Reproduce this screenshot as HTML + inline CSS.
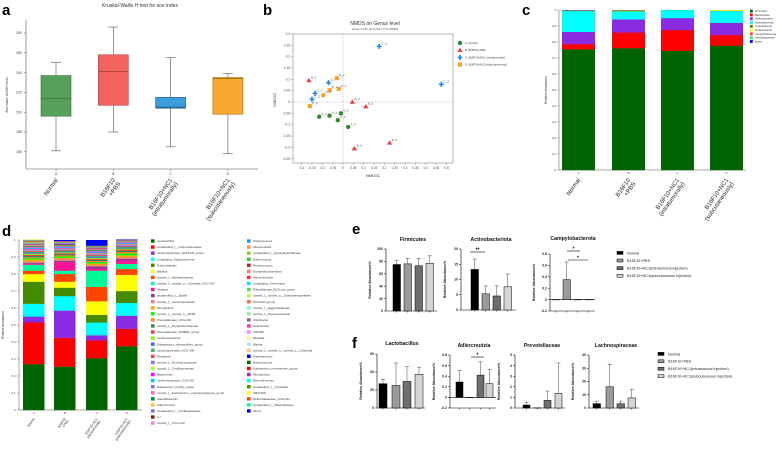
<!DOCTYPE html>
<html><head><meta charset="utf-8"><style>
html,body{margin:0;padding:0;background:#fff;}
svg{display:block;font-family:"Liberation Sans",Arial,sans-serif;}
</style></head><body>
<svg id="fig" width="782" height="450" viewBox="0 0 782 450" xmlns="http://www.w3.org/2000/svg"></svg>
<script>
// ---------- Panel a data ----------
const aGroups = ["A","B","C","D"];
const aLabels = [["Normal"],["B16F10","+PBS"],["B16F10+NC1","(intratumorally)"],["B16F10+NC1","(subcutaneously)"]];
const aMin = [161,180,165,158];
const aQ1 = [196,207,204,198];
const aMed = [214,241,205,234];
const aQ3 = [237,258,215,235];
const aMax = [250,286,255,239];
const aTicks = [160,180,200,220,240,260,280];
// ---------- Panel b data ----------
const bGroups = ["A","B","C","D"];
const bLegend = ["A: Normal","B: B16F10+PBS","C: B16F10+NC1 (intratumorally)","D: B16F10+NC1(subcutaneously)"];
const bNames = ["A_1","A_2","A_3","A_4","A_5","B_1","B_2","B_3","B_4","B_5","C_1","C_2","C_3","C_4","C_5","D_1","D_2","D_3","D_4","D_5"];
const bX = [-0.065,-0.115,-0.01,0.025,-0.025,-0.165,0.045,0.225,0.055,0.11,0.175,-0.135,0.475,-0.07,-0.15,-0.02,-0.03,-0.16,-0.065,-0.095];
const bY = [-0.06,-0.065,-0.05,-0.11,-0.08,0.095,0.0,-0.18,-0.205,-0.02,0.245,0.038,0.078,0.085,0.012,0.058,0.105,-0.018,0.052,0.03];
const bXTicks = [-0.2,-0.15,-0.1,-0.05,0,0.05,0.1,0.15,0.2,0.25,0.3,0.35,0.4,0.45,0.5];
const bYTicks = [-0.25,-0.2,-0.15,-0.1,-0.05,0,0.05,0.1,0.15,0.2,0.25,0.3];
// ---------- Panel c data ----------
const cPhyla = ["Firmicutes","Bacteroidota","Patescibacteria","Actinobacteriota","Cyanobacteria","Proteobacteria","Campylobacterota","Desulfobacterota","others"];
const cA = [0.755,0.032,0.077,0.13,0.002,0.001,0.001,0.001,0.001];
const cB = [0.762,0.098,0.082,0.05,0.002,0.001,0.004,0.001,0.0];
const cC = [0.745,0.13,0.075,0.048,0.001,0.0,0.0,0.001,0.0];
const cD = [0.778,0.066,0.076,0.074,0.002,0.004,0.0,0.0,0.0];
const cTicks = [0,0.1,0.2,0.3,0.4,0.5,0.6,0.7,0.8,0.9,1];
// ---------- Panel d data ----------
const dGenera = ["Lactobacillus","unclassified_f__Lachnospiraceae","Lachnospiraceae_NK4A136_group","Candidatus_Saccharimonas","Enterorhabdus","Bacillus","norank_f__Muribaculaceae","norank_f__norank_o__Clostridia_UCG-014","Alistipes","unclassified_c__Bacilli","norank_f__Lachnospiraceae","Monoglobus","norank_f__norank_o__RF39","Prevotellaceae_UCG-001","norank_f__Erysipelotrichaceae","Prevotellaceae_NK3B31_group","Lachnoclostridium","Eubacterium_xylanophilum_group","Lachnospiraceae_UCG-006","Roseburia","norank_f__Ruminococcaceae","norank_f__Oscillospiraceae","Bacteroides","Lachnospiraceae_UCG-001","Eubacterium_brachy_group","norank_f__Eubacterium_coprostanoligenes_group","Faecalibaculum","Adlercreutzia","unclassified_f__Oscillospiraceae","AJ","norank_f__UCG-010",
"Streptococcus","Alloprevotella","unclassified_f__Erysipelotrichaceae","Enterococcus","Ruminococcus","Erysipelatoclostridium","Marvinbryantia","Candidatus_Arthromitus","Rikenellaceae_RC9_gut_group","norank_f__norank_o__Gastranaerophilales","NK4A214_group","norank_f__Eggerthellaceae","norank_f__Peptococcaceae","Odoribacter","Helicobacter","ASF356","Bilophila","Blautia","norank_f__norank_o__norank_c__Clostridia","Anaerotruncus","Butyricicoccus","Eubacterium_ruminantium_group","Muribaculum","Brevundimonas","unclassified_c__Clostridia","UBA1819","Defluviitaleaceae_UCG-011","unclassified_f__Rikenellaceae","others"];
const dColors = ["#006400","#ff0000","#8a2be2","#00ffff","#458b00","#ffff00","#ff4500","#00fa9a","#ff1493","#8b3a8b","#f08080","#ffa500","#00ff00","#ff7f24","#2e8b57","#ee3b3b","#7cfc00","#4169e1","#3cb371","#f04040","#8470ff","#adff2f","#ff00ff","#00bfff","#9370db","#ff69b4","#008b45","#ffc125","#7b68ee","#8b1a1a","#ee82ee",
"#1e90ff","#ff8c42","#9acd32","#32cd32","#b22222","#fa8072","#ff3030","#00e5ee","#66cd66","#c0ff3e","#ff6347","#7fffd4","#90ee90","#8b668b","#ff3399","#ff83fa","#fff68f","#b0e2ff","#ffc58f","#0000ff","#006400","#ff0000","#9932cc","#00ffff","#458b00","#ffff00","#ff4500","#00fa9a","#0000ff"];
const dA = [0.27,0.245,0.035,0.075,0.13,0.045,0.02,0.035,0.005,0.005,0.01,0.01,0.008,0.006,0.008,0.006,0.007,0.006,0.005,0.005,0.004,0.004,0.005,0.004,0.004,0.004,0.004,0.004,0.003,0.003,0.003,0.003,0.003,0.003,0.003,0.003,0.002,0.002,0.002,0.002,0.002];
const dB = [0.255,0.17,0.16,0.085,0.05,0.035,0.045,0.02,0.05,0.008,0.012,0.006,0.008,0.006,0.007,0.006,0.005,0.005,0.005,0.004,0.004,0.004,0.004,0.004,0.004,0.003,0.003,0.003,0.003,0.003,0.003,0.003,0.002,0.002,0.002,0.002,0.002];
const dC = [0.305,0.105,0.03,0.075,0.045,0.08,0.085,0.095,0.012,0.012,0.01,0.008,0.008,0.007,0.007,0.006,0.006,0.006,0.005,0.005,0.005,0.005,0.004,0.004,0.004,0.004,0.004,0.003,0.003,0.003,0.003,0.003,0.003,0.002,0.002,0.002];
const dD = [0.375,0.103,0.077,0.075,0.07,0.095,0.035,0.03,0.02,0.01,0.01,0.01,0.012,0.008,0.007,0.007,0.006,0.006,0.005,0.005,0.005,0.004,0.004,0.004,0.004,0.003,0.003,0.003,0.003,0.003,0.002,0.002];
const dTicks = [0,0.1,0.2,0.3,0.4,0.5,0.6,0.7,0.8,0.9,1];
// ---------- Panels e/f data ----------
const efGroups = ["Normal","B16F10+PBS","B16F10+NC1(intratumoral injection)","B16F10+NC1(subcutaneous injection)"];
const firmVals = [75,76,73,77];   const firmErr = [82,85,85,89];   const firmTicks = [0,20,40,60,80,100];
const actVals = [13.3,5.3,4.6,7.6]; const actErr = [16.7,7.9,7.9,11.8]; const actTicks = [0,5,10,15,20];
const campVals = [-0.005,0.35,0,0]; const campErr = [0,0.66,0,0]; const campTicks = [-0.2,0,0.2,0.4,0.6,0.8];
const lactVals = [27,25,29.5,37.5]; const lactErr = [32,50,46,45]; const lactTicks = [0,20,40,60];
const adlVals = [0.29,0,0.42,0.26]; const adlErr = [0.51,0,0.67,0.53]; const adlTicks = [-0.2,0,0.2,0.4,0.6,0.8];
const prevVals = [0.28,0.02,0.72,1.38]; const prevErr = [0.55,0,1.6,4.25]; const prevTicks = [0,1,2,3,4,5];
const lachVals = [3.3,16,3.2,7.6]; const lachErr = [5.2,33,5.2,14]; const lachTicks = [0,10,20,30,40];

const NS="http://www.w3.org/2000/svg";
const svg=document.getElementById('fig');
function mk(tag,attrs,parent){const e=document.createElementNS(NS,tag);for(const k in attrs)e.setAttribute(k,attrs[k]);(parent||svg).appendChild(e);return e;}
function txt(s,attrs,parent){const e=mk('text',attrs,parent);e.textContent=s;return e;}
function grp(name){const g=mk('g',{});return g;}

// ================= Panel a =================
(function(){
const g=grp('panel-a');
const ya=v=>33+(280-v)*0.99;
const xa=i=>56+i*57.3;
const cols=["#55a05a","#f4645e","#3b9ddb","#f7a92c"];
const strokes=["#3f6f42","#a9433f","#245f86","#a36d1b"];
let t=txt('a',{x:2,y:15,'font-size':15,'font-weight':'bold'},g);


t=txt('Kruskal-Wallis H test for ace index',{x:140,y:7,'font-size':5,'text-anchor':'middle',fill:'#333'},g);


let l=mk('line',{x1:26,y1:20,x2:26,y2:169,stroke:'#555','stroke-width':0.6},g);


l=mk('line',{x1:26,y1:169,x2:258,y2:169,stroke:'#555','stroke-width':0.6},g);


aTicks.forEach(v=>{mk('line',{x1:24,x2:26,y1:ya(v),y2:ya(v),stroke:'#555','stroke-width':0.5},g);
 const tl=txt(String(v),{x:22,y:ya(v)+1.2,'font-size':3.5,'text-anchor':'end',fill:'#444'},g);
 
 });
t=txt('Ace index of ASV level',{x:0,y:0,'font-size':3.5,'text-anchor':'middle',fill:'#333',transform:'translate(8,95) rotate(-90)'},g);


aGroups.forEach((k,i)=>{
 const cx=xa(i),w=30;
 const bx=mk('g',{},g);
 
 
 mk('line',{x1:cx,x2:cx,y1:ya(aMax[i]),y2:ya(aQ3[i]),stroke:'#555','stroke-width':0.6},bx);
 mk('line',{x1:cx,x2:cx,y1:ya(aQ1[i]),y2:ya(aMin[i]),stroke:'#555','stroke-width':0.6},bx);
 mk('line',{x1:cx-5,x2:cx+5,y1:ya(aMax[i]),y2:ya(aMax[i]),stroke:'#555','stroke-width':0.6},bx);
 mk('line',{x1:cx-5,x2:cx+5,y1:ya(aMin[i]),y2:ya(aMin[i]),stroke:'#555','stroke-width':0.6},bx);
 mk('rect',{x:cx-w/2,y:ya(aQ3[i]),width:w,height:ya(aQ1[i])-ya(aQ3[i]),fill:cols[i],stroke:strokes[i],'stroke-width':0.6},bx);
 mk('line',{x1:cx-w/2,x2:cx+w/2,y1:ya(aMed[i]),y2:ya(aMed[i]),stroke:strokes[i],'stroke-width':0.9},bx);
 mk('line',{x1:cx,x2:cx,y1:169,y2:171,stroke:'#555','stroke-width':0.5},g);
 txt(k,{x:cx,y:175,'font-size':3.5,'text-anchor':'middle',fill:'#444'},g);
 const lab=txt('',{'font-size':6,'text-anchor':'end',fill:'#222',transform:`translate(${cx+2},180) rotate(-55)`},g);
 
 
 aLabels[i].forEach((s,j)=>{const ts=mk('tspan',{x:0,dy:j?6.5:0},lab);ts.textContent=s;});
});
})();

// ================= Panel b =================
(function(){
const g=grp('panel-b');
const xb=v=>343+v*207, yb=v=>102-v*227;
let t=txt('b',{x:263,y:15,'font-size':15,'font-weight':'bold'},g);


t=txt('NMDS on Genus level',{x:375,y:25,'font-size':5,'text-anchor':'middle',fill:'#333'},g);


txt('stress: 0.182, R=0.2523, P=0.000900',{x:375,y:30,'font-size':2.8,'text-anchor':'middle',fill:'#555'},g);
const fr=mk('rect',{x:293,y:34,width:160,height:129,fill:'none',stroke:'#888','stroke-width':0.6},g);


mk('line',{x1:xb(0),x2:xb(0),y1:34,y2:163,stroke:'#999','stroke-width':0.5,'stroke-dasharray':'1,1'},g);
mk('line',{x1:293,x2:453,y1:yb(0),y2:yb(0),stroke:'#999','stroke-width':0.5,'stroke-dasharray':'1,1'},g);
bXTicks.forEach(v=>{mk('line',{x1:xb(v),x2:xb(v),y1:163,y2:165,stroke:'#666','stroke-width':0.4},g);
 const tl=txt(String(v),{x:xb(v),y:169,'font-size':3.2,'text-anchor':'middle',fill:'#444'},g);
 
 });
bYTicks.forEach(v=>{mk('line',{x1:291,x2:293,y1:yb(v),y2:yb(v),stroke:'#666','stroke-width':0.4},g);
 const tl=txt(String(v),{x:290,y:yb(v)+1,'font-size':3.2,'text-anchor':'end',fill:'#444'},g);
 
 });
t=txt('NMDS1',{x:373,y:177,'font-size':4,'text-anchor':'middle',fill:'#333'},g);


t=txt('NMDS2',{x:0,y:0,'font-size':4,'text-anchor':'middle',fill:'#333',transform:'translate(276,100) rotate(-90)'},g);


const col={A:'#2e8b2e',B:'#ee3b3b',C:'#1e88e5',D:'#ff9c1a'};
function marker(k,x,y,p){
 if(k==='A')return mk('circle',{cx:x,cy:y,r:2.2,fill:col.A},p);
 if(k==='B')return mk('polygon',{points:`${x},${y-2.6} ${x-2.6},${y+1.8} ${x+2.6},${y+1.8}`,fill:col.B},p);
 if(k==='C')return mk('path',{d:`M${x-0.8},${y-2.6}h1.6v1.8h1.6v1.6h-1.6v1.8h-1.6v-1.8h-1.6v-1.6h1.6z`,fill:col.C},p);
 return mk('rect',{x:x-2,y:y-2,width:4,height:4,fill:col.D},p);
}
bNames.forEach((n,i)=>{
 const k=n[0], x=xb(bX[i]), y=yb(bY[i]);
 const pg=mk('g',{},g);
 
 
 marker(k,x,y,pg);
 txt(n,{x:x+2.2,y:y-2,'font-size':3,fill:'#555'},pg);
});
bGroups.forEach((k,i)=>{
 const y=43+i*7.2;
 const lg=mk('g',{},g);
 
 
 marker(k,460,y,lg);
 txt(bLegend[i],{x:465,y:y+1,'font-size':2.8,fill:'#333'},lg);
});
})();

// ================= Panel c =================
(function(){
const g=grp('panel-c');
const yc=v=>170-v*160;
const colors=["#006400","#ff0000","#8a2be2","#00ffff","#458b00","#ffff00","#ff4500","#00fa9a","#0000ff"];
const data=[cA,cB,cC,cD], lefts=[562,612,661,710], keys=["A","B","C","D"];
const labels=[["Normal"],["B16F10","+PBS"],["B16F10+NC1","(intratumorally)"],["B16F10+NC1","(subcutaneously)"]];
let t=txt('c',{x:522,y:15,'font-size':15,'font-weight':'bold'},g);


mk('line',{x1:559,x2:559,y1:10,y2:170,stroke:'#555','stroke-width':0.5},g);
mk('line',{x1:559,x2:746,y1:170,y2:170,stroke:'#555','stroke-width':0.5},g);
cTicks.forEach(v=>{mk('line',{x1:557,x2:559,y1:yc(v),y2:yc(v),stroke:'#555','stroke-width':0.4},g);
 const tl=txt(String(v),{x:556,y:yc(v)+1,'font-size':3,'text-anchor':'end',fill:'#444'},g);
 
 });
t=txt('Relative abundance',{x:0,y:0,'font-size':3.2,'text-anchor':'middle',fill:'#333',transform:'translate(547,90) rotate(-90)'},g);


data.forEach((arr,i)=>{
 let cum=0;
 const bg=mk('g',{},g);
 
 
 arr.forEach((v,j)=>{ if(v>0){mk('rect',{x:lefts[i],y:yc(cum+v),width:33,height:yc(cum)-yc(cum+v)+0.2,fill:colors[j]},bg);} cum+=v;});
 const cx=lefts[i]+16.5;
 txt(keys[i],{x:cx,y:174,'font-size':3,'text-anchor':'middle',fill:'#444'},g);
 const lab=txt('',{'font-size':6,'text-anchor':'end',fill:'#222',transform:`translate(${cx+2},180) rotate(-55)`},g);
 
 
 labels[i].forEach((s,j)=>{const ts=mk('tspan',{x:0,dy:j?6.5:0},lab);ts.textContent=s;});
});
cPhyla.forEach((p,i)=>{
 const y=11+i*3.8;
 const lg=mk('g',{},g);
 
 
 mk('rect',{x:750,y:y-1.3,width:2.8,height:2.8,fill:colors[i]},lg);
 txt(p,{x:755,y:y+1,'font-size':2.6,fill:'#333'},lg);
});
})();

// ================= Panel d =================
(function(){
const g=grp('panel-d');
const yd=v=>410-v*170;
const data=[dA,dB,dC,dD], lefts=[23,54,86,116], keys=["A","B","C","D"];
const labels=[["Normal"],["B16F10","+PBS"],["B16F10+NC1","(intratumorally)"],["B16F10+NC1","(subcutaneously)"]];
let t=txt('d',{x:2,y:236,'font-size':15,'font-weight':'bold'},g);


mk('line',{x1:19,x2:19,y1:240,y2:410,stroke:'#555','stroke-width':0.5},g);
mk('line',{x1:19,x2:142,y1:410,y2:410,stroke:'#555','stroke-width':0.5},g);
dTicks.forEach(v=>{mk('line',{x1:17,x2:19,y1:yd(v),y2:yd(v),stroke:'#555','stroke-width':0.4},g);
 const tl=txt(String(v),{x:15.5,y:yd(v)+1,'font-size':3,'text-anchor':'end',fill:'#444'},g);
 
 });
t=txt('Relative abundance',{x:0,y:0,'font-size':3.2,'text-anchor':'middle',fill:'#333',transform:'translate(4,325) rotate(-90)'},g);


data.forEach((arr,i)=>{
 let cum=0;
 const bg=mk('g',{},g);
 
 
 arr.forEach((v,j)=>{ mk('rect',{x:lefts[i],y:yd(cum+v),width:21.5,height:yd(cum)-yd(cum+v)+0.15,fill:dColors[j]},bg); cum+=v;});
 if(cum<1){mk('rect',{x:lefts[i],y:yd(1),width:21.5,height:yd(cum)-yd(1),fill:'#0000ff'},bg);}
 const cx=lefts[i]+10.75;
 txt(keys[i],{x:cx,y:414,'font-size':3,'text-anchor':'middle',fill:'#444'},g);
 const lab=txt('',{'font-size':3.2,'text-anchor':'end',fill:'#222',transform:`translate(${cx+1},419) rotate(-55)`},g);
 
 
 labels[i].forEach((s,j)=>{const ts=mk('tspan',{x:0,dy:j?3.6:0},lab);ts.textContent=s;});
});
dGenera.forEach((n,i)=>{
 const col2=i>=31, k=col2?i-31:i;
 const x=col2?247:151, y=241+k*6.07;
 const lg=mk('g',{},g);
 
 
 mk('rect',{x:x,y:y-1.7,width:3.6,height:3.4,fill:dColors[i]},lg);
 txt(n,{x:x+6,y:y+1.1,'font-size':3,fill:'#333'},lg);
});
})();

// ================= Panels e / f =================
const barFill=['#000000','#9a9a9a','#6e6e6e','#d4d4d4'];
function barChart(name,title,titleX,titleY,axisX,yTopPx,yZeroPx,yBotPx,vTop,vBot,ticks,vals,errs,lefts,w,xEnd){
 const g=grp(name);
 const sc=(yBotPx-yTopPx)/(vTop-vBot);
 const y=v=>yTopPx+(vTop-v)*sc;
 const tt=txt(title,{x:titleX,y:titleY,'font-size':5.2,'font-weight':'bold','text-anchor':'middle',fill:'#111'},g);
 
 
 mk('line',{x1:axisX,x2:axisX,y1:yTopPx,y2:yBotPx,stroke:'#000','stroke-width':0.6},g);
 mk('line',{x1:axisX,x2:xEnd,y1:yBotPx,y2:yBotPx,stroke:'#000','stroke-width':0.6},g);
 if(vBot<0) mk('line',{x1:axisX,x2:xEnd,y1:y(0),y2:y(0),stroke:'#000','stroke-width':0.6},g);
 ticks.forEach(v=>{mk('line',{x1:axisX-2,x2:axisX,y1:y(v),y2:y(v),stroke:'#000','stroke-width':0.5},g);
  const tl=txt(String(v.toFixed(Number.isInteger(v)?0:1)),{x:axisX-3,y:y(v)+1.2,'font-size':3.5,'text-anchor':'end','font-weight':'bold',fill:'#222'},g);
  
  });
 const yl=txt('Relative Abundance%',{x:0,y:0,'font-size':3.6,'font-weight':'bold','text-anchor':'middle',fill:'#111',transform:`translate(${axisX-15},${(yTopPx+yBotPx)/2}) rotate(-90)`},g);
 
 
 vals.forEach((v,i)=>{
  const x=lefts[i], cx=x+w/2;
  const b=mk('g',{},g);
  
  
  const y0=y(0), y1=y(v);
  mk('rect',{x:x,y:Math.min(y0,y1),width:w,height:Math.max(Math.abs(y0-y1),0.3),fill:barFill[i],stroke:'#000','stroke-width':0.5},b);
  if(errs[i]>v){mk('line',{x1:cx,x2:cx,y1:y1,y2:y(errs[i]),stroke:'#444','stroke-width':0.5},b);
   mk('line',{x1:cx-2,x2:cx+2,y1:y(errs[i]),y2:y(errs[i]),stroke:'#444','stroke-width':0.5},b);}
  mk('line',{x1:cx,x2:cx,y1:yBotPx,y2:yBotPx+1.5,stroke:'#000','stroke-width':0.5},g);
 });
 return {g,y};
}
function sig(g,x1,x2,yy,label){
 const s=mk('g',{},g);
 
 
 mk('line',{x1:x1,x2:x2,y1:yy,y2:yy,stroke:'#000','stroke-width':0.6},s);
 txt(label,{x:(x1+x2)/2,y:yy-0.5,'font-size':5,'font-weight':'bold','text-anchor':'middle'},s);
}
function legendEF(x,y0,step,name){
 const g=grp(name);
 efGroups.forEach((n,i)=>{
  const y=y0+i*step;
  const lg=mk('g',{},g);
  
  
  mk('rect',{x:x,y:y-1.6,width:6,height:3,fill:barFill[i],stroke:'#000','stroke-width':0.5},lg);
  txt(n,{x:x+10,y:y+1.3,'font-size':3.8,fill:'#222'},lg);
 });
}
let L=txt('e',{x:352,y:234,'font-size':15,'font-weight':'bold'});


L=txt('f',{x:352,y:348,'font-size':15,'font-weight':'bold'});


barChart('chart-firmicutes','Firmicutes',413,241,386,249,311,311,100,0,firmTicks,firmVals,firmErr,[393,404,415,426],7.5,437);
const act=barChart('chart-actinobacteriota','Actinobacteriota',491,241,461,249,310,310,20,0,actTicks,actVals,actErr,[471,482,493,504],7.5,516);
sig(act.g,470,485,252,'**');
const camp=barChart('chart-campylobacterota','Campylobacterota',573,240,550,254,299,311,0.8,-0.2,campTicks,campVals,campErr,[552,563,574,585],7.5,595);
sig(camp.g,567,580,251,'*');
sig(camp.g,568,588,260,'*');
legendEF(617,253,7.6,'legend-e');
barChart('chart-lactobacillus','Lactobacillus',402,345,377,354,408,408,60,0,lactTicks,lactVals,lactErr,[379,392,403,415],8,425);
const adl=barChart('chart-adlercreutzia','Adlercreutzia',474,347,450,355,398,408,0.8,-0.2,adlTicks,adlVals,adlErr,[456,466,477,486],7,496);
sig(adl.g,471,484,357,'*');
barChart('chart-prevotellaceae','Prevotellaceae',542,347,515,355,408,408,5,0,prevTicks,prevVals,prevErr,[523,534,544,555],7,565);
barChart('chart-lachnospiraceae','Lachnospiraceae',616,347,589,355,408,408,40,0,lachTicks,lachVals,lachErr,[593,606,617,628],7.5,639);
legendEF(658,354,7.4,'legend-f');
</script>
</body></html>
